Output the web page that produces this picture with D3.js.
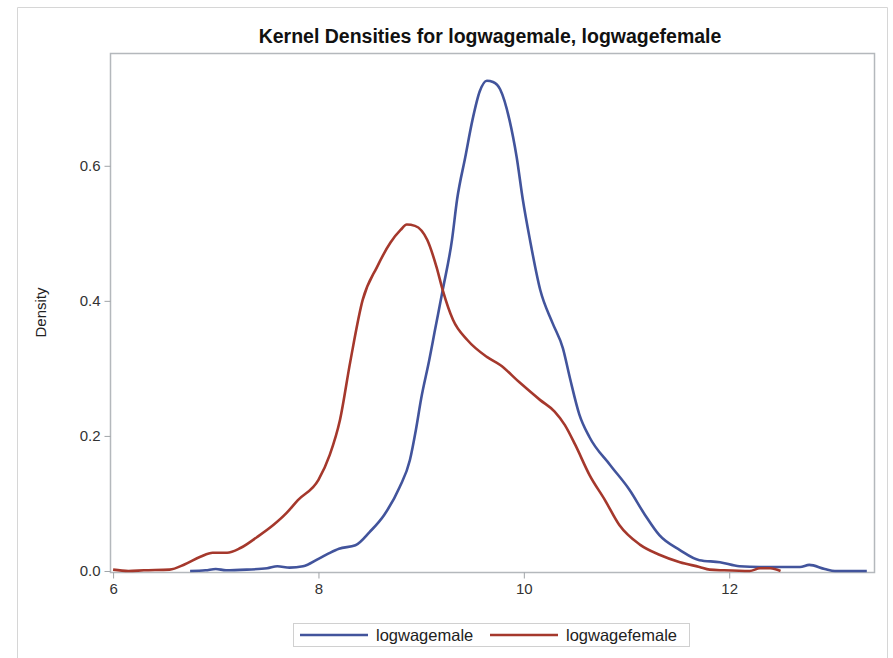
<!DOCTYPE html>
<html lang="en">
<head>
  <meta charset="UTF-8">
  <title>Kernel Densities</title>
  <script src="https://d3js.org/d3.v7.min.js"></script>
  <style>
    body { margin: 0; background: #fff; }
    text { font-family: "Liberation Sans", Arial, sans-serif; }
  </style>
</head>
<body>
  <script>
    ((window, document) => {
      "use strict";

      /**
       * -----------------------------------------------------------------------
       *  Data
       * -----------------------------------------------------------------------
       */
      const SERIES_NAMES = ["logwagemale", "logwagefemale"];
      const SERIES_COLORS = ["#42549c", "#a5382c"];

      const MALE_X = [6.75, 6.9, 7.0, 7.1, 7.3, 7.5, 7.6, 7.72, 7.85, 8.0, 8.1, 8.2,
        8.36, 8.5, 8.64, 8.79, 8.89, 8.95, 9.0, 9.08, 9.13, 9.21, 9.3, 9.35, 9.43,
        9.5, 9.57, 9.64, 9.7, 9.77, 9.86, 9.93, 9.99, 10.06, 10.16, 10.28, 10.38,
        10.45, 10.54, 10.64, 10.84, 11.03, 11.18, 11.32, 11.52, 11.71, 11.91, 12.1,
        12.3, 12.69, 12.78, 12.93, 13.03, 13.34];
      const MALE_Y = [0.0, 0.001, 0.003, 0.001, 0.002, 0.004, 0.007, 0.005, 0.007, 0.018, 0.026, 0.033,
        0.038, 0.058, 0.083, 0.124, 0.164, 0.21, 0.255, 0.313, 0.353, 0.416, 0.49, 0.55, 0.613,
        0.668, 0.71, 0.726, 0.724, 0.713, 0.668, 0.613, 0.55, 0.49, 0.416, 0.367, 0.33,
        0.285, 0.232, 0.198, 0.157, 0.12, 0.083, 0.053, 0.031, 0.016, 0.013, 0.007,
        0.006, 0.006, 0.009, 0.003, 0.0, 0.0];

      const FEMALE_X = [6.0, 6.15, 6.3, 6.55, 6.7, 6.85, 6.97, 7.11, 7.24, 7.4, 7.56, 7.69,
        7.8, 8.0, 8.11, 8.21, 8.31, 8.43, 8.57, 8.7, 8.8, 8.86, 8.94, 9.06, 9.15, 9.21,
        9.31, 9.45, 9.64, 9.77, 9.96, 10.16, 10.3, 10.4, 10.5, 10.64, 10.79, 10.93,
        11.13, 11.32, 11.52, 11.71, 11.81, 11.95, 12.2, 12.3, 12.4, 12.5];
      const FEMALE_Y = [0.002, 0.0, 0.001, 0.002, 0.01, 0.021, 0.027, 0.027, 0.034, 0.05, 0.068, 0.086,
        0.105, 0.135, 0.172, 0.224, 0.31, 0.401, 0.45, 0.486, 0.505, 0.513, 0.511, 0.49, 0.45, 0.416,
        0.372, 0.342, 0.317, 0.305, 0.279, 0.253, 0.236, 0.216, 0.187, 0.142, 0.105, 0.068,
        0.039, 0.024, 0.013, 0.006, 0.002, 0.001, 0.0, 0.004, 0.004, 0.0];

      const X_TICKS = [6, 8, 10, 12];
      const Y_TICKS = [0.0, 0.2, 0.4, 0.6];

      const TITLE = "Kernel Densities for logwagemale, logwagefemale";
      const Y_LABEL = "Density";


      /**
       * -----------------------------------------------------------------------
       *  Render
       * -----------------------------------------------------------------------
       */
      const WIDTH = 893, HEIGHT = 658;
      const plot = { left: 110, right: 874, top: 53, bottom: 572 };

      let svg = d3.select("body").append("svg")
          .attr("width", WIDTH)
          .attr("height", HEIGHT);

      // outer frame (no bottom edge visible)
      svg.append("path")
          .attr("d", `M17.5,${HEIGHT} V7.5 H887.5 V${HEIGHT}`)
          .attr("fill", "none")
          .attr("stroke", "#d6d6d6");

      let x = d3.scaleLinear().domain([5.97, 13.41]).range([plot.left, plot.right]);
      let y = d3.scaleLinear().domain([-0.0015, 0.767]).range([plot.bottom, plot.top]);

      // plot frame
      svg.append("rect")
          .attr("x", plot.left + 0.5)
          .attr("y", plot.top + 0.5)
          .attr("width", plot.right - plot.left)
          .attr("height", plot.bottom - plot.top)
          .attr("fill", "none")
          .attr("stroke", "#b4b8bc")
          .attr("stroke-width", 1.5);

      let xAxis = svg.append("g")
          .attr("transform", `translate(0, ${plot.bottom + 0.5})`)
          .call(d3.axisBottom(x).tickValues(X_TICKS).tickSize(6).tickPadding(5)
            .tickFormat(d3.format("d")));
      let yAxis = svg.append("g")
          .attr("transform", `translate(${plot.left + 0.5}, 0)`)
          .call(d3.axisLeft(y).tickValues(Y_TICKS).tickSize(6).tickPadding(4)
            .tickFormat(d3.format(".1f")));

      [xAxis, yAxis].forEach(g => {
        g.select(".domain").remove();
        g.selectAll(".tick line").attr("stroke", "#a0a4a8");
        g.selectAll(".tick text")
            .attr("fill", "#333")
            .style("font-size", "15px")
            .style("font-family", "'Liberation Sans', Arial, sans-serif");
      });

      // curves
      let line = d3.line()
          .curve(d3.curveMonotoneX)
          .x(d => x(d[0]))
          .y(d => y(d[1]));

      let series = [
        d3.zip(MALE_X, MALE_Y),
        d3.zip(FEMALE_X, FEMALE_Y),
      ];

      svg.append("g").selectAll("path")
          .data(series)
          .join("path")
          .attr("d", line)
          .attr("fill", "none")
          .attr("stroke", (d, i) => SERIES_COLORS[i])
          .attr("stroke-width", 2.6)
          .attr("stroke-linejoin", "round");

      // title
      svg.append("text")
          .attr("x", (plot.left + plot.right) / 2 - 2)
          .attr("y", 43)
          .attr("text-anchor", "middle")
          .attr("fill", "#111")
          .style("font-size", "19.5px")
          .style("font-weight", "bold")
          .text(TITLE);

      // y label
      svg.append("text")
          .attr("transform", `translate(46, ${(plot.top + plot.bottom) / 2}) rotate(-90)`)
          .attr("text-anchor", "middle")
          .attr("fill", "#222")
          .style("font-size", "15px")
          .text(Y_LABEL);

      // legend
      let legend = svg.append("g");
      legend.append("rect")
          .attr("x", 293.5).attr("y", 623.5)
          .attr("width", 396).attr("height", 23)
          .attr("fill", "#fff")
          .attr("stroke", "#d0d0d0");
      let items = legend.selectAll("g.item")
          .data(SERIES_NAMES)
          .join("g")
          .attr("class", "item")
          .attr("transform", (d, i) => `translate(${[300, 490][i]}, 635)`);
      items.append("line")
          .attr("x1", 0).attr("x2", 68)
          .attr("stroke", (d, i) => SERIES_COLORS[i])
          .attr("stroke-width", 2.6);
      items.append("text")
          .attr("x", 76).attr("y", 5.5)
          .attr("fill", "#222")
          .style("font-size", "16.5px")
          .text(d => d);

    })(window, document);
  </script>
</body>
</html>
